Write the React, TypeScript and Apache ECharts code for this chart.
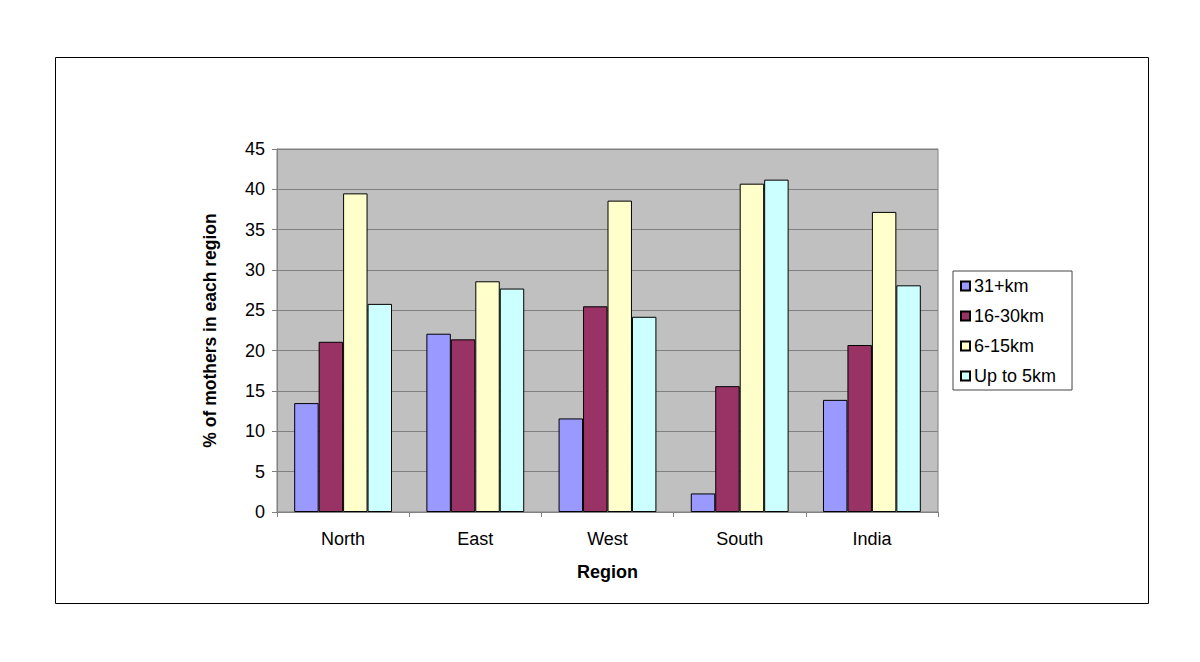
import React, { useEffect, useRef } from "react";
import * as echarts from "echarts";

const regions = ["North", "East", "West", "South", "India"];
const seriesNames = ["31+km", "16-30km", "6-15km", "Up to 5km"];
const km31plus = [13.5, 22.1, 11.6, 2.3, 13.9];
const km16to30 = [21.1, 21.4, 25.5, 15.6, 20.7];
const km6to15 = [39.5, 28.6, 38.6, 40.7, 37.2];
const upTo5km = [25.8, 27.7, 24.2, 41.2, 28.1];
const yTicks = [0, 5, 10, 15, 20, 25, 30, 35, 40, 45];

const colors = ["#9999ff", "#993366", "#ffffcc", "#ccffff"];
const FONT = "'Liberation Sans', Arial, sans-serif";

export default function App() {
  const ref = useRef<HTMLDivElement>(null);
  useEffect(() => {
    document.body.style.margin = "0";
    const chart = echarts.init(ref.current!, null, { renderer: "svg" });
    const values = [km31plus, km16to30, km6to15, upTo5km];
    chart.setOption({
      animation: false,
      backgroundColor: "#ffffff",
      textStyle: { fontFamily: FONT },
      graphic: [
        {
          type: "rect",
          shape: { x: 55.5, y: 57.5, width: 1093, height: 546 },
          style: { fill: "none", stroke: "#000000", lineWidth: 1 },
          silent: true,
        },
      ],
      grid: {
        left: 277,
        top: 149,
        width: 661,
        height: 363,
        show: true,
        backgroundColor: "#c0c0c0",
        borderColor: "#808080",
        borderWidth: 1,
      },
      legend: {
        orient: "vertical",
        left: 953,
        top: 271,
        padding: [6, 16, 5, 7],
        itemWidth: 9,
        itemHeight: 9,
        itemGap: 12,
        borderColor: "#444444",
        borderWidth: 1,
        backgroundColor: "#ffffff",
        icon: "rect",
        textStyle: { fontSize: 18, color: "#000", fontFamily: FONT, lineHeight: 18, padding: [0, 0, 0, -1] },
        data: seriesNames,
      },
      xAxis: {
        type: "category",
        data: regions,
        name: "Region",
        nameLocation: "middle",
        nameGap: 51,
        nameTextStyle: { fontSize: 18, fontWeight: "bold", color: "#000", fontFamily: FONT },
        axisLine: { lineStyle: { color: "#808080" } },
        axisTick: { show: true, length: 5, lineStyle: { color: "#808080" } },
        axisLabel: { fontSize: 18, color: "#000", margin: 18, fontFamily: FONT },
      },
      yAxis: {
        type: "value",
        min: 0,
        max: 45,
        interval: 5,
        name: "% of mothers in each region",
        nameLocation: "middle",
        nameGap: 58,
        nameTextStyle: { fontSize: 17.5, fontWeight: "bold", color: "#000", fontFamily: FONT },
        axisLine: { show: true, lineStyle: { color: "#808080" } },
        axisTick: { show: true, length: 5, lineStyle: { color: "#808080" } },
        axisLabel: {
          fontSize: 18,
          color: "#000",
          margin: 12,
          fontFamily: FONT,
          formatter: (v: number) => (yTicks.includes(v) ? String(v) : ""),
        },
        splitLine: { show: true, lineStyle: { color: "#808080", width: 1 } },
      },
      series: seriesNames.map((name, i) => ({
        name,
        type: "bar",
        data: values[i],
        barGap: "0%",
        barCategoryGap: "26%",
        itemStyle: { color: colors[i], borderColor: "#000000", borderWidth: 1 },
      })),
    });
    return () => chart.dispose();
  }, []);
  return <div ref={ref} style={{ width: 1200, height: 662 }} />;
}
